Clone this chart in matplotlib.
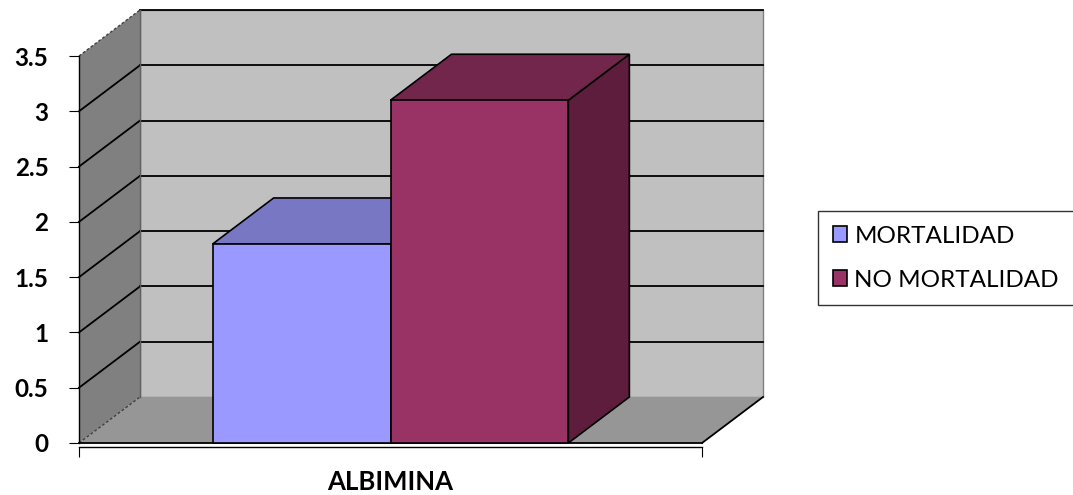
import matplotlib
matplotlib.use('Agg')
import matplotlib.pyplot as plt
from matplotlib.patches import Polygon, Patch

plt.rcParams['font.family'] = ['Lato', 'DejaVu Sans']

# Chart values
category = 'ALBIMINA'
series_names = ['MORTALIDAD', 'NO MORTALIDAD']
series_values = [1.8, 3.1]
y_ticks = [0, 0.5, 1, 1.5, 2, 2.5, 3, 3.5]

front_colors = ['#9999ff', '#993366']
top_colors = ['#7777c3', '#73264c']
side_colors = ['#5c5c9e', '#5e1d3d']

W, H = 1073, 495
fig = plt.figure(figsize=(W / 100, H / 100), dpi=100)

# Front plane of the 3D box in pixels
x0, x1 = 79, 702
y0px, ytop = 443, 56
ax = fig.add_axes([x0 / W, (H - y0px) / H, (x1 - x0) / W, (y0px - ytop) / H])
ymax = y_ticks[-1]
ax.set_xlim(0, 1)
ax.set_ylim(0, ymax)

# Depth offset (oblique projection)
DX = 61 / (x1 - x0)
DY = 46 / ((y0px - ytop) / ymax)

def poly(pts, fc, ec='black', lw=1.2, ls='-', z=1):
    ax.add_patch(Polygon(pts, closed=True, facecolor=fc, edgecolor=ec,
                         linewidth=lw, linestyle=ls, zorder=z, clip_on=False))

# Back wall, floor and side wall
poly([(DX, DY), (1 + DX, DY), (1 + DX, ymax + DY), (DX, ymax + DY)], '#c0c0c0', ec='#808080', lw=1, z=1)
poly([(0, 0), (1, 0), (1 + DX, DY), (DX, DY)], '#969696', ec='none', z=1)
poly([(0, 0), (DX, DY), (DX, ymax + DY), (0, ymax)], '#808080', ec='none', z=1)

# Gridlines on the back wall and the side wall
for v in y_ticks[1:]:
    ax.plot([DX, 1 + DX], [v + DY, v + DY], color='black', lw=1.3, zorder=2, clip_on=False)
    if v < ymax:
        ax.plot([0, DX], [v, v + DY], color='black', lw=1.3, zorder=2, clip_on=False)
ax.plot([0, DX], [ymax, ymax + DY], color='#404040', lw=1, ls=(0, (2, 1.5)), zorder=2, clip_on=False)
ax.plot([0, DX], [0, DY], color='#404040', lw=1, ls=(0, (2, 1.5)), zorder=2, clip_on=False)
ax.plot([DX, DX], [DY, ymax + DY], color='#606060', lw=1, zorder=2, clip_on=False)
ax.plot([1, 1 + DX], [0, DY], color='black', lw=1.3, zorder=2, clip_on=False)
ax.plot([0, 1], [0, 0], color='black', lw=1.3, zorder=2, clip_on=False)

# 3D columns
bar_w = 0.2855
left = 0.5 - bar_w
for i, v in enumerate(series_values):
    xl = left + i * bar_w
    xr = xl + bar_w
    poly([(xr, 0), (xr + DX, DY), (xr + DX, v + DY), (xr, v)], side_colors[i], z=3 + i)
    poly([(xl, v), (xr, v), (xr + DX, v + DY), (xl + DX, v + DY)], top_colors[i], z=3 + i)
    poly([(xl, 0), (xr, 0), (xr, v), (xl, v)], front_colors[i], z=3 + i)

# Axes
for s in ['top', 'right']:
    ax.spines[s].set_visible(False)
ax.spines['left'].set_color('black')
ax.spines['bottom'].set_position(('outward', 3))
ax.spines['left'].set_linewidth(1)
ax.spines['bottom'].set_linewidth(1)
ax.set_yticks(y_ticks)
ax.set_yticklabels([f'{t:g}' for t in y_ticks], fontsize=17.5, fontweight='bold')
ax.tick_params(axis='y', direction='out', length=7, pad=15)
ax.set_xticks([0, 1])
ax.set_xticklabels(['', ''])
ax.tick_params(axis='x', direction='out', length=7)
fig.text(390 / W, 1 - 482 / H, category, ha='center', va='center',
         fontsize=18.5, fontweight='bold')
ax.set_facecolor('none')

# Legend
handles = [Patch(facecolor=c, edgecolor='black', linewidth=1.2) for c in front_colors]
leg = fig.legend(handles, series_names, loc='upper left', bbox_to_anchor=(818 / W, 1 - 211 / H),
                 frameon=True, fancybox=False, fontsize=17.5, handlelength=0.6, handleheight=0.6,
                 handletextpad=0.3, labelspacing=0.95, borderpad=0.6, borderaxespad=0)
leg.get_frame().set_edgecolor('black')
leg.get_frame().set_linewidth(1)

fig.savefig('out.png', dpi=100)
